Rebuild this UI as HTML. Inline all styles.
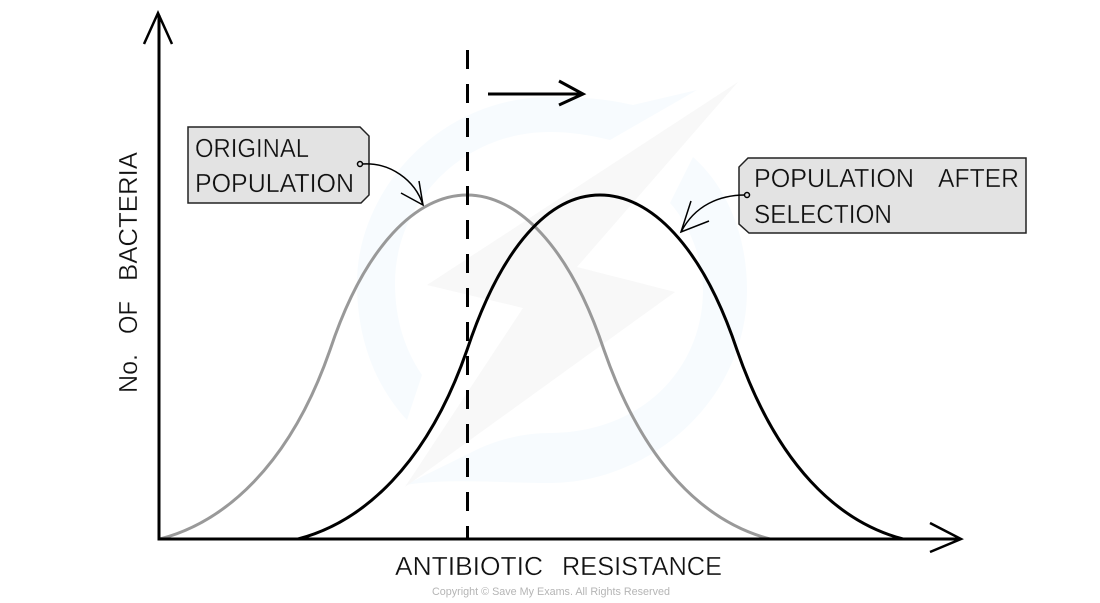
<!DOCTYPE html>
<html>
<head>
<meta charset="utf-8">
<style>
html,body{margin:0;padding:0;background:#fff;}
svg{display:block;}
text{font-family:"Liberation Sans",sans-serif;fill:#111;font-size:26px;stroke:#fff;stroke-width:.35px;}
.t text{stroke:#e3e3e3;}
</style>
</head>
<body>
<svg width="1100" height="603" viewBox="0 0 1100 603" xmlns="http://www.w3.org/2000/svg">
<!-- watermark -->
<g fill="#f7fbfe">
<path d="M407,420 C370,380 357,330 357,283 C357,190 440,97 550,97 C590,97 610,100 633,105 L697,90 L610,140 C590,135 570,132 550,132 C460,132 395,205 395,283 C395,320 405,350 422,375 Z"/>
<path d="M693,157 C730,190 747,240 747,290 C747,400 650,483 550,483 C500,483 450,478 405,485 L470,453 C500,437 530,433 550,433 C640,433 703,370 703,290 C703,260 690,225 670,203 Z"/>
</g>
<polygon points="738,82 427,285 523,308 405,487 675,292 577,267" fill="#f8f8f8"/>
<!-- curves -->
<path d="M160,539 C225,522 290,465 330,350 C365,245 417,195 467,195 C517,195 569,245 604,350 C644,465 705,522 770,539" fill="none" stroke="#999" stroke-width="3"/>
<path d="M298,539 C363,522 427,465 467,350 C502,245 550,195 600,195 C650,195 702,245 737,350 C777,465 838,522 903,539" fill="none" stroke="#000" stroke-width="3"/>
<!-- dashed -->
<line x1="467.500" y1="50" x2="467.500" y2="539" stroke="#000" stroke-width="3" stroke-dasharray="19 15"/>
<!-- axes -->
<path d="M159,15 V539 H960" fill="none" stroke="#000" stroke-width="3"/>
<path d="M144,44 L158,13 L172,44" fill="none" stroke="#000" stroke-width="2.500"/>
<path d="M930,523 L961,539 L930,552" fill="none" stroke="#000" stroke-width="2.500"/>
<!-- top arrow -->
<path d="M488,94 H583" fill="none" stroke="#000" stroke-width="3"/>
<path d="M559,81 L583,94 L559,105" fill="none" stroke="#000" stroke-width="3"/>
<!-- tag 1 -->
<polygon points="188,127 360,127 369,136 369,195 361,203 188,203" fill="#e3e3e3" stroke="#222" stroke-width="1.500"/>
<g class="t">
<text x="195" y="157" textLength="114" lengthAdjust="spacingAndGlyphs">ORIGINAL</text>
<text x="195" y="192" textLength="159" lengthAdjust="spacingAndGlyphs">POPULATION</text>
</g>
<circle cx="360" cy="164" r="2.500" fill="none" stroke="#000" stroke-width="1.500"/>
<path d="M362,164 C390,162 415,180 423,205" fill="none" stroke="#000" stroke-width="1.500"/>
<path d="M419,181 L423,205 L401,193" fill="none" stroke="#000" stroke-width="1.500"/>
<!-- tag 2 -->
<polygon points="748,158 1026,158 1026,233 749,233 739,224 739,167" fill="#e3e3e3" stroke="#222" stroke-width="1.500"/>
<g class="t">
<text x="754" y="187" textLength="160" lengthAdjust="spacingAndGlyphs">POPULATION</text>
<text x="938" y="187" textLength="81" lengthAdjust="spacingAndGlyphs">AFTER</text>
<text x="754" y="223" textLength="138" lengthAdjust="spacingAndGlyphs">SELECTION</text>
</g>
<circle cx="747" cy="195" r="2.500" fill="none" stroke="#000" stroke-width="1.500"/>
<path d="M745,195 C720,195 695,205 681,232" fill="none" stroke="#000" stroke-width="1.500"/>
<path d="M691,201 L681,232 L709,221" fill="none" stroke="#000" stroke-width="1.500"/>
<!-- labels -->
<g transform="translate(137,393) rotate(-90)">
<text x="0" y="0" textLength="39" lengthAdjust="spacingAndGlyphs">No.</text>
<text x="59" y="0" textLength="33" lengthAdjust="spacingAndGlyphs">OF</text>
<text x="112" y="0" textLength="129" lengthAdjust="spacingAndGlyphs">BACTERIA</text>
</g>
<text x="395" y="575" textLength="148" lengthAdjust="spacingAndGlyphs">ANTIBIOTIC</text>
<text x="562" y="575" textLength="160" lengthAdjust="spacingAndGlyphs">RESISTANCE</text>
<text x="432" y="595" textLength="238" lengthAdjust="spacingAndGlyphs" style="font-size:11px;fill:#b5b5b5;stroke:none">Copyright © Save My Exams. All Rights Reserved</text>
</svg>
</body>
</html>
